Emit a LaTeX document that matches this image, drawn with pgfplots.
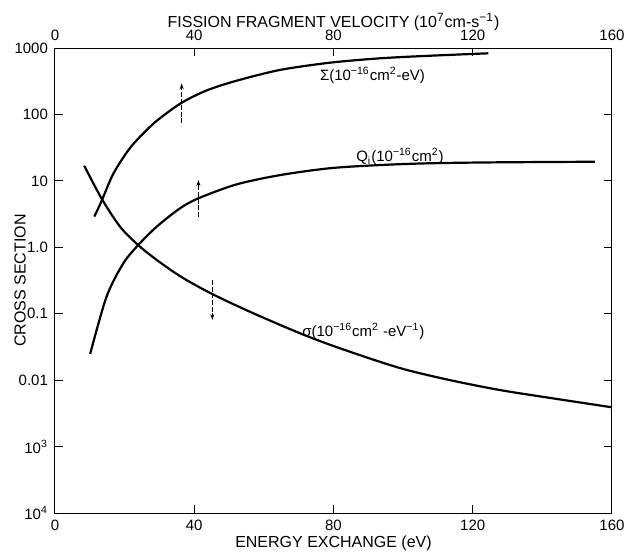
\documentclass[border=0pt]{standalone}
\usepackage{pgfplots}
\pgfplotsset{compat=1.18}
\usepackage{fontspec}
\setmainfont{Liberation Sans}
\usetikzlibrary{arrows.meta}
\begin{document}
\begin{tikzpicture}
\useasboundingbox (-27.5pt,-19.5pt) rectangle (286.5pt,256.5pt);
\begin{axis}[
  at={(0,0)}, anchor=south west, scale only axis,
  width=278.5pt, height=232.5pt,
  xmin=0, xmax=160, ymode=log, ymin=1e-4, ymax=1000,
  xtick={0,40,80,120,160},
  ytick={1e-4,1e-3,0.01,0.1,1,10,100,1000},
  yticklabels={10\textsuperscript{4},10\textsuperscript{3},0.01,0.1,1.0,10,100,1000},
  yminorticks=false,
  tick align=inside, major tick length=4pt,
  axis line style={line width=0.5pt}, tick style={line width=0.5pt, black},
  /pgf/number format/assume math mode=true,
  ticklabel style={font=\fontsize{7.5}{8}\selectfont},
  xlabel={ENERGY EXCHANGE (eV)},
  xlabel style={at={(axis description cs:0.5,0)}, anchor=center, yshift=-15pt, font=\fontsize{8}{9}\selectfont},
  ylabel={CROSS SECTION},
  ylabel style={at={(axis description cs:0,0.5)}, anchor=center, yshift=17.5pt, font=\fontsize{8}{9}\selectfont},
  clip=false,
]
% Sigma
\addplot[black, line width=1.1pt, smooth] coordinates {
  (11.3,2.9) (13.4,5.0) (16.3,11.5) (18.7,19) (21.5,31) (24.4,46) (29.2,80)
  (36.4,150) (43.6,230) (52,320) (64.6,467) (79,601) (93.4,700) (107.7,765) (124.5,832)};
% Q_i
\addplot[black, line width=1.1pt, smooth] coordinates {
  (10.1,0.0248) (14.8,0.18) (19.6,0.57) (23.9,1.08) (29.2,2.04) (35.9,3.86)
  (41.2,5.46) (52,8.8) (64.6,12.2) (79,15.5) (93.4,17.3) (107.7,18.4)
  (126.9,19.0) (155.1,19.4)};
% sigma
\addplot[black, line width=1.1pt, smooth] coordinates {
  (8.4,16.9) (13.4,5.4) (18.7,2.04) (23.9,1.08) (29.2,0.646) (36.4,0.355)
  (45,0.2) (56,0.107) (70.4,0.0507) (81.9,0.0301) (99.1,0.0152)
  (113.5,0.0100) (127.8,0.0071) (142.2,0.0054) (160,0.0039)};
% arrows
\addplot[black, line width=0.45pt, dash pattern=on 2.5pt off 0.8pt, -{Stealth[length=3pt,width=2pt]}] coordinates {(36.4,73.5) (36.4,294)};
\addplot[black, line width=0.45pt, dash pattern=on 2.5pt off 0.8pt, -{Stealth[length=3pt,width=2pt]}] coordinates {(41.2,2.88) (41.2,10.3)};
\addplot[black, line width=0.45pt, dash pattern=on 2.5pt off 0.8pt, -{Stealth[length=3pt,width=2pt]}] coordinates {(45.2,0.32) (45.2,0.0805)};
% labels
\node[font=\fontsize{7.5}{8}\selectfont] at (axis cs:91.2,392) {Σ(10\textsuperscript{−16}cm\textsuperscript{2}-eV)};
\node[font=\fontsize{7.5}{8}\selectfont] at (axis cs:99.1,23.5) {Q\textsubscript{i}(10\textsuperscript{−16}cm\textsuperscript{2})};
\node[font=\fontsize{7.5}{8}\selectfont] at (axis cs:88.6,0.0537) {σ(10\textsuperscript{−16}cm\textsuperscript{2} -eV\textsuperscript{−1})};
\end{axis}
\begin{axis}[
  at={(0,0)}, anchor=south west, scale only axis,
  width=278.5pt, height=232.5pt,
  xmin=0, xmax=160, ymin=0, ymax=1,
  hide y axis, axis line style={draw=none},
  xtick pos=upper, xticklabel pos=upper,
  xtick={0,40,80,120,160}, major tick length=0pt,
  /pgf/number format/assume math mode=true,
  ticklabel style={font=\fontsize{7.5}{8}\selectfont},
  xlabel={FISSION FRAGMENT VELOCITY (10\textsuperscript{7}cm-s\textsuperscript{−1})},
  xlabel style={at={(axis description cs:0.5,1)}, anchor=center, yshift=13pt, font=\fontsize{8}{9}\selectfont},
]
\addplot[draw=none] coordinates {(0,0.5)};
\end{axis}
\end{tikzpicture}
\end{document}
